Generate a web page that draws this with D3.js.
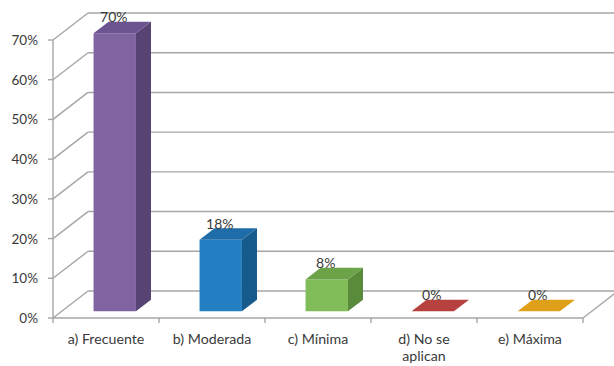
<!DOCTYPE html>
<html>
<head>
<meta charset="utf-8">
<script src="https://cdn.jsdelivr.net/npm/d3@7"></script>
<style>
  html, body { margin: 0; padding: 0; background: #ffffff; }
  svg { display: block; }
  text { font-family: Lato, "Open Sans", sans-serif; fill: #3a3a3a; }
</style>
</head>
<body>
<svg id="chart" width="614" height="366"></svg>
<script>
// Categories, values (share of responses) and tick labels
const categories = ["a) Frecuente", "b) Moderada", "c) Mínima", "d) No se aplican", "e) Máxima"];
const categoryLines = [["a) Frecuente"], ["b) Moderada"], ["c) Mínima"], ["d) No se", "aplican"], ["e) Máxima"]];
const values = [0.70, 0.18, 0.08, 0.00, 0.00];
const yTicks = [0, 0.1, 0.2, 0.3, 0.4, 0.5, 0.6, 0.7];
const yTickLabels = ["0%", "10%", "20%", "30%", "40%", "50%", "60%", "70%"];

// Face colours per bar: front, side, top
const frontColors = ["#8064A2", "#2580C3", "#80BD58", "#B7413E", "#F5B21E"];
const sideColors  = ["#574473", "#175A8C", "#5A8A3B", "#8E2E2C", "#C38A14"];
const topColors   = ["#6C5490", "#1E6CA8", "#6CA349", "#B7413E", "#DE9F19"];

const svg = d3.select("#chart");

// Front plane geometry and oblique depth projection
const plotLeft = 53, plotRight = 583, plotBottom = 318, plotTop = 40;
const depthX = 35, depthY = -27;
const zFront = 0.25, zBack = 0.68;
const proj = (x, yy, z) => [x + z * depthX, yy + z * depthY];

const y = d3.scaleLinear().domain([0, 0.7]).range([plotBottom, plotTop]);
const xCat = d3.scaleBand().domain(categories).range([plotLeft, plotRight]).padding(0);
const xBar = d3.scaleBand().domain(categories).range([plotLeft, plotRight])
  .paddingInner(0.6).paddingOuter(0.3);

const grid = svg.append("g").attr("fill", "none")
  .attr("stroke", "#A6A6A6").attr("stroke-width", 1.4);

// Back wall horizontal gridlines and left wall diagonals
yTicks.forEach(t => {
  const [bx, by] = proj(plotLeft, y(t), 1);
  grid.append("line").attr("x1", bx).attr("y1", by).attr("x2", 620).attr("y2", by);
  grid.append("line").attr("x1", plotLeft).attr("y1", y(t)).attr("x2", bx).attr("y2", by);
});

// Floor: front edge and right-hand depth edge
const [fx, fy] = proj(plotRight, plotBottom, 1);
grid.append("line").attr("x1", plotLeft).attr("y1", plotBottom).attr("x2", plotRight).attr("y2", plotBottom);
grid.append("line").attr("x1", plotRight).attr("y1", plotBottom).attr("x2", fx).attr("y2", fy);

// Value axis line and ticks
grid.append("line").attr("x1", plotLeft).attr("y1", y(0.7)).attr("x2", plotLeft).attr("y2", plotBottom);
yTicks.forEach(t => {
  grid.append("line").attr("x1", plotLeft - 5).attr("y1", y(t)).attr("x2", plotLeft).attr("y2", y(t));
});

// Category ticks on the front floor edge
const catEdges = [plotLeft].concat(categories.map(c => xCat(c) + xCat.bandwidth()));
catEdges.forEach(ex => {
  grid.append("line").attr("x1", ex).attr("y1", plotBottom).attr("x2", ex).attr("y2", plotBottom + 5);
});

// Value axis labels
svg.append("g").selectAll("text").data(yTicks).join("text")
  .attr("x", 38).attr("y", t => y(t))
  .attr("text-anchor", "end").attr("dominant-baseline", "central")
  .attr("font-size", 13.5)
  .text((t, i) => yTickLabels[i]);

// Category labels
const catG = svg.append("g");
categories.forEach((c, i) => {
  const cx = xCat(c) + xCat.bandwidth() / 2;
  const t = catG.append("text").attr("x", cx).attr("y", 344)
    .attr("text-anchor", "middle").attr("font-size", 14.2);
  categoryLines[i].forEach((line, k) => {
    t.append("tspan").attr("x", cx).attr("dy", k === 0 ? 0 : 17).text(line);
  });
});

// 3D bars: front rectangle, right side and top
const bars = svg.append("g");
categories.forEach((c, i) => {
  const v = values[i];
  const x0 = xBar(c), x1 = x0 + xBar.bandwidth();
  const yb = y(0), yt = y(v);
  const F = (x, yy) => proj(x, yy, zFront);
  const B = (x, yy) => proj(x, yy, zBack);
  const poly = pts => pts.map(p => p.join(",")).join(" ");
  const g = bars.append("g");
  if (yb - yt > 0.5) {
    g.append("polygon").attr("points", poly([F(x0, yt), F(x1, yt), F(x1, yb), F(x0, yb)]))
      .attr("fill", frontColors[i]);
    g.append("polygon").attr("points", poly([F(x1, yt), B(x1, yt), B(x1, yb), F(x1, yb)]))
      .attr("fill", sideColors[i]);
  }
  g.append("polygon").attr("points", poly([F(x0, yt), F(x1, yt), B(x1, yt), B(x0, yt)]))
    .attr("fill", topColors[i]);

  // Value label above the bar
  const [lx, ly] = F((x0 + x1) / 2, yt);
  svg.append("text").attr("x", lx - 1).attr("y", ly - 11)
    .attr("text-anchor", "middle").attr("font-size", 14)
    .text(d3.format(".0%")(v));
});
</script>
</body>
</html>
